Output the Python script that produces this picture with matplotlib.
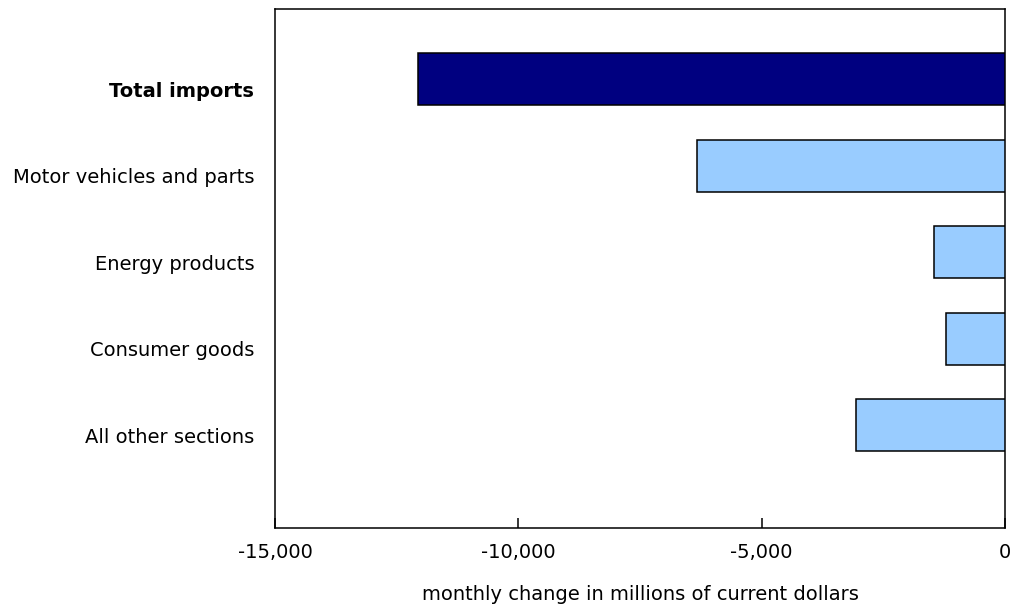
import numpy as np
import matplotlib
matplotlib.use("Agg")
import matplotlib.pyplot as plt
import matplotlib.transforms as mtransforms
from matplotlib.ticker import FuncFormatter


# Data (millions of current dollars, monthly change)
categories = ["Total imports", "Motor vehicles and parts", "Energy products",
              "Consumer goods", "All other sections"]
values = [-12061, -6322, -1465, -1212, -3061]
bar_colors = ["#000080", "#99CCFF", "#99CCFF", "#99CCFF", "#99CCFF"]
x_ticks = [-15000, -10000, -5000, 0]
x_label = "monthly change in millions of current dollars"


plt.rcParams['font.family'] = ['DejaVu Sans']
fs = 14

fig = plt.figure(figsize=(10.11, 6.04), dpi=100)
ax = fig.add_axes([275 / 1011, 1 - 528 / 604, 730 / 1011, 519 / 604])

pos = np.arange(len(categories))
ax.barh(pos, values, height=0.6, color=bar_colors, edgecolor='black',
        linewidth=1.1, zorder=3)

ax.set_xlim(-15000, 0)
ax.set_ylim(5.19, -0.81)

ax.set_xticks(x_ticks)
ax.xaxis.set_major_formatter(FuncFormatter(lambda v, p: f"{int(v):,}"))
ax.tick_params(axis='x', direction='in', length=7, width=1.1, pad=11,
               labelsize=fs, colors='black')

ax.set_yticks(pos)
ax.set_yticklabels(categories)
ax.tick_params(axis='y', length=0, pad=15, labelsize=fs)
ax.get_yticklabels()[0].set_fontweight('bold')

# labels sit a bit below the bar centres in the original
offset = mtransforms.ScaledTranslation(0, -0.10, fig.dpi_scale_trans)
for lab in ax.get_yticklabels():
    lab.set_transform(lab.get_transform() + offset)

ax.set_xlabel(x_label, fontsize=fs, labelpad=16)

for s in ax.spines.values():
    s.set_linewidth(1.1)
    s.set_color('black')

fig.savefig("out.png", dpi=100)
